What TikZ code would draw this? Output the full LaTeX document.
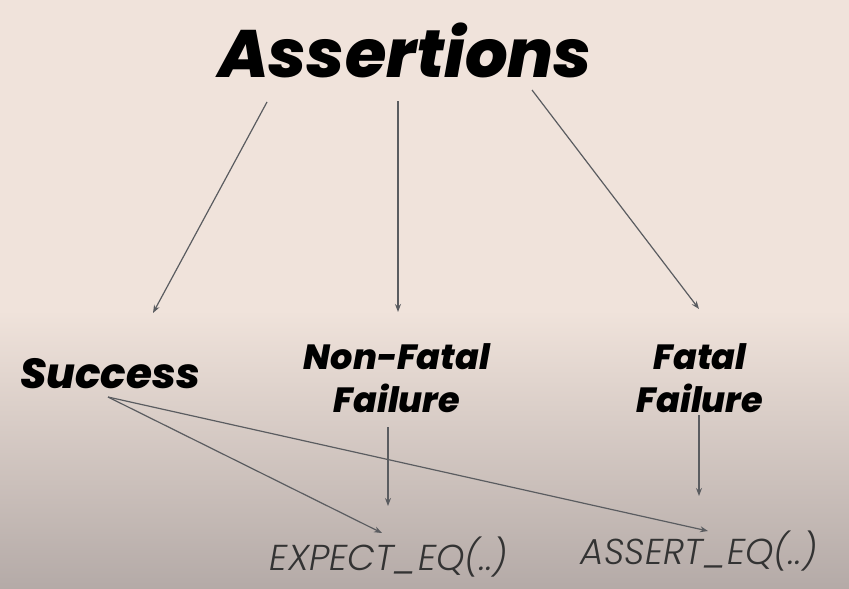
\documentclass[tikz,border=0pt]{standalone}
\usepackage{fontspec}
\setmainfont{Poppins}
\newfontfamily\popbold{Poppins}[UprightFont=*-ExtraBold, ItalicFont=*-ExtraBoldItalic]
\newfontfamily\poplight{Poppins}[UprightFont=*-Light, ItalicFont=*-LightItalic]
\usetikzlibrary{arrows.meta}
\definecolor{bgtop}{HTML}{F0E3DB}
\definecolor{bgbot}{HTML}{B4AAA7}
\definecolor{linegray}{HTML}{5A5C60}
\tikzset{
  title/.style={font=\popbold\itshape\fontsize{67}{80}\selectfont, text=black, inner sep=0pt},
  cat/.style={font=\popbold\itshape\fontsize{35}{43}\selectfont, text=black, align=center, inner sep=0pt},
  macro/.style={font=\poplight\itshape\fontsize{36}{40}\selectfont, text=black!80, inner sep=0pt},
  conn/.style={draw=linegray, line width=1.2pt, -{Stealth[length=8pt,width=6pt]}}
}
\begin{document}
\begin{tikzpicture}[x=1pt,y=-1pt]
\useasboundingbox (0,0) rectangle (849,589);
\fill[bgtop] (0,0) rectangle (849,589);
\shade[top color=bgtop, bottom color=bgbot] (0,310) rectangle (849,589.5);

\node[title] (assert) at (405,50) {Assertions};
\node[cat, font=\popbold\itshape\fontsize{42}{50}\selectfont] (succ) at (110,374) {Success};
\node[cat] (nonfatal) at (397,378) {Non-Fatal\\Failure};
\node[cat] (fatal) at (700,378) {Fatal\\Failure};
\node[macro] (expect) at (389,557) {EXPECT\_EQ(..)};
\node[macro] (assertm) at (699,551) {ASSERT\_EQ(..)};

\coordinate (a1) at (267,102);
\coordinate (a2) at (398,101);
\coordinate (a3) at (532,90);
\coordinate (s1) at (153,313);
\coordinate (n1) at (398,312);
\coordinate (f1) at (699,309);
\coordinate (sc) at (108,397);
\coordinate (e1) at (382,533);
\coordinate (e2) at (708,531);
\coordinate (nb) at (388,427);
\coordinate (ne) at (388,506);
\coordinate (fb) at (699,415);
\coordinate (fe) at (699,496);

\draw[conn] (a1) -- (s1);
\draw[conn] (a2) -- (n1);
\draw[conn] (a3) -- (f1);
\draw[conn] (sc) -- (e1);
\draw[conn] (sc) -- (e2);
\draw[conn] (nb) -- (ne);
\draw[conn] (fb) -- (fe);
\end{tikzpicture}
\end{document}
